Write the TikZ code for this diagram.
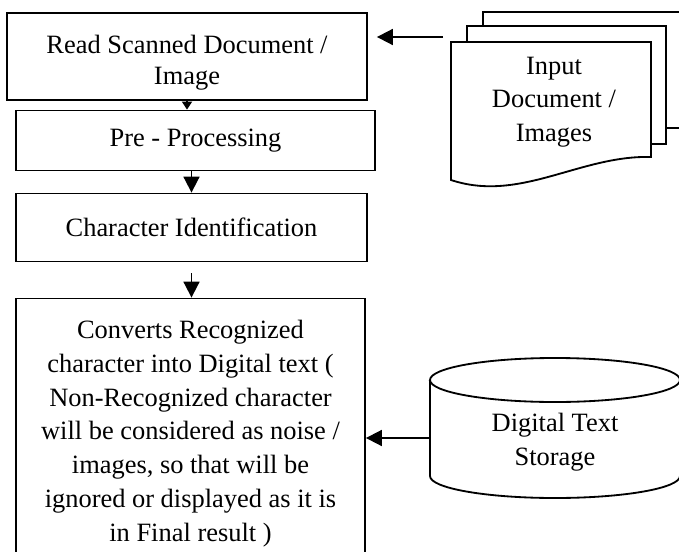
\documentclass[tikz,border=0pt]{standalone}
\usepackage{fontspec}
\setmainfont{Liberation Serif}
\usetikzlibrary{arrows.meta, shapes.geometric}
\usetikzlibrary{calc}

\begin{document}
\begin{tikzpicture}[
    >={Triangle[length=0.4cm, width=0.4cm]}, line width=1.3pt, node distance=2.1cm,
    every node/.style={align=center, font=\fontsize{18.8}{24}\selectfont},
    box/.style={draw, rectangle, inner sep=0pt},
    page/.style={draw, fill=white}
]
\useasboundingbox (0,0) rectangle (16.975,-13.8);
\clip (0,0) rectangle (16.975,-13.8);
% Define shapes
\node (read) [box, minimum width=9cm, minimum height=2.175cm, text height=1.55cm, font=\fontsize{18.8}{22}\selectfont] at (4.675,-1.4125) {Read Scanned Document /\\ Image};
\node (pre) [box, below of=read, xshift=0.2125cm, minimum width=8.975cm, minimum height=1.5cm] {Pre - Processing};
\node (char) [box, below of=pre, xshift=-0.1cm, yshift=-0.075cm, minimum width=8.775cm, minimum height=1.7cm] {Character Identification};
\node (conv) [box, below of=char, xshift=-0.025cm, yshift=-3.05cm, minimum width=8.725cm, minimum height=6.75cm] {Converts Recognized\\ character into Digital text (\\ Non-Recognized character\\ will be considered as noise /\\ images, so that will be\\ ignored or displayed as it is\\ in Final result )};

% Input pages
\draw[page] (12.075,-0.3) rectangle (17.375,-3.2);
\draw[page] (11.675,-0.65) rectangle (16.65,-3.6);
\draw[page] (11.275,-1.05) -- (16.275,-1.05) -- (16.275,-3.925) .. controls (14.5,-3.875) and (13.0,-5.075) .. (11.275,-4.5) -- cycle;
\node (input) at (13.85,-2.55) {Input\\ Document /\\ Images};
\coordinate (docarrow) at (11.075,-0.925);

% Storage cylinder
\draw[page] (10.75,-9.5) -- (10.75,-11.9) arc[start angle=180, end angle=360, x radius=3.125cm, y radius=0.55cm] -- (17.0,-9.5) arc[start angle=0, end angle=180, x radius=3.125cm, y radius=0.55cm] -- cycle;
\draw (10.75,-9.5) arc[start angle=180, end angle=360, x radius=3.125cm, y radius=0.55cm];
\node (store) [minimum width=6.25cm, inner sep=0pt] at (13.875,-11.05) {Digital Text\\ Storage};

% Draw arrows
\draw[-{Triangle[length=0.2cm, width=0.25cm]}] (read.south) -- (read.south |- pre.north);
\draw[->] (char.north |- pre.south) -- (char.north);
\draw[->] ([yshift=-0.275cm]char.south) -- (char.south |- conv.north);
\draw[->] (docarrow) -- ([xshift=0.225cm]docarrow -| read.east);
\draw[->] ([yshift=0.1cm]store.west) -- ([yshift=0.1cm]store.west -| conv.east);
\end{tikzpicture}
\end{document}
